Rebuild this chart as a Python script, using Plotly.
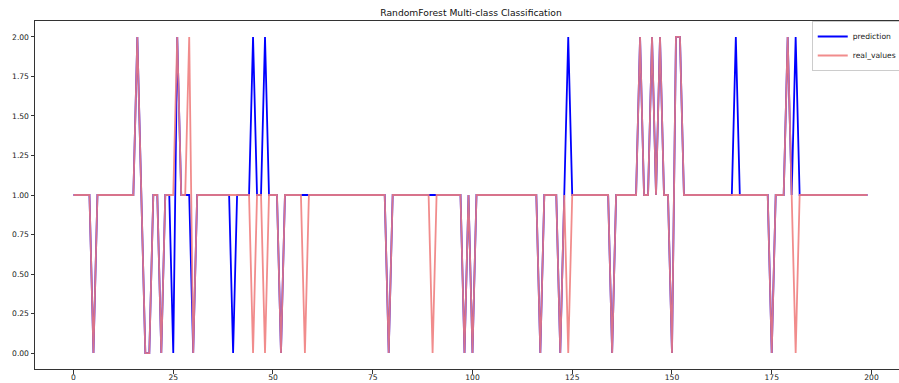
import plotly.graph_objects as go

# ---- data ----
x_index = list(range(200))

real_values = (
    [1, 1, 1, 1, 1, 0, 1, 1, 1, 1, 1, 1, 1, 1, 1, 1, 2, 1, 0, 0,      # 0-19
     1, 1, 0, 1, 1, 1, 2, 1, 1, 2, 0, 1, 1, 1, 1, 1, 1, 1, 1, 1,      # 20-39
     1, 1, 1, 1, 1, 0, 1, 1, 0, 1, 1, 1, 0, 1, 1, 1, 1, 1, 0, 1,      # 40-59
     1, 1, 1, 1, 1, 1, 1, 1, 1, 1, 1, 1, 1, 1, 1, 1, 1, 1, 1, 0,      # 60-79
     1, 1, 1, 1, 1, 1, 1, 1, 1, 1, 0, 1, 1, 1, 1, 1, 1, 1, 0, 1,      # 80-99
     0, 1, 1, 1, 1, 1, 1, 1, 1, 1, 1, 1, 1, 1, 1, 1, 1, 0, 1, 1,      # 100-119
     1, 1, 0, 1, 0, 1, 1, 1, 1, 1, 1, 1, 1, 1, 1, 0, 1, 1, 1, 1,      # 120-139
     1, 1, 2, 1, 1, 2, 1, 2, 1, 1, 0, 2, 2, 1, 1, 1, 1, 1, 1, 1,      # 140-159
     1, 1, 1, 1, 1, 1, 1, 1, 1, 1, 1, 1, 1, 1, 1, 0, 1, 1, 1, 2,      # 160-179
     1, 0, 1, 1, 1, 1, 1, 1, 1, 1, 1, 1, 1, 1, 1, 1, 1, 1, 1, 1]      # 180-199
)

prediction = (
    [1, 1, 1, 1, 1, 0, 1, 1, 1, 1, 1, 1, 1, 1, 1, 1, 2, 1, 0, 0,      # 0-19
     1, 1, 0, 1, 1, 0, 2, 1, 1, 1, 0, 1, 1, 1, 1, 1, 1, 1, 1, 1,      # 20-39
     0, 1, 1, 1, 1, 2, 1, 1, 2, 1, 1, 1, 0, 1, 1, 1, 1, 1, 1, 1,      # 40-59
     1, 1, 1, 1, 1, 1, 1, 1, 1, 1, 1, 1, 1, 1, 1, 1, 1, 1, 1, 0,      # 60-79
     1, 1, 1, 1, 1, 1, 1, 1, 1, 1, 1, 1, 1, 1, 1, 1, 1, 1, 0, 1,      # 80-99
     0, 1, 1, 1, 1, 1, 1, 1, 1, 1, 1, 1, 1, 1, 1, 1, 1, 0, 1, 1,      # 100-119
     1, 1, 0, 1, 2, 1, 1, 1, 1, 1, 1, 1, 1, 1, 1, 0, 1, 1, 1, 1,      # 120-139
     1, 1, 2, 1, 1, 2, 1, 2, 1, 1, 0, 2, 2, 1, 1, 1, 1, 1, 1, 1,      # 140-159
     1, 1, 1, 1, 1, 1, 2, 1, 1, 1, 1, 1, 1, 1, 1, 0, 1, 1, 1, 2,      # 160-179
     1, 2, 1, 1, 1, 1, 1, 1, 1, 1, 1, 1, 1, 1, 1, 1, 1, 1, 1, 1]      # 180-199
)

x_ticks = [0, 25, 50, 75, 100, 125, 150, 175, 200]
y_ticks = [0.0, 0.25, 0.5, 0.75, 1.0, 1.25, 1.5, 1.75, 2.0]

FONT = "DejaVu Sans"

fig = go.Figure()
fig.add_trace(go.Scatter(
    x=x_index, y=prediction, mode="lines", name="prediction",
    line=dict(color="rgb(0,0,255)", width=1.8),
))
fig.add_trace(go.Scatter(
    x=x_index, y=real_values, mode="lines", name="real_values",
    line=dict(color="rgba(240,128,128,0.9)", width=1.8),
))

axis_common = dict(
    showgrid=False, zeroline=False,
    showline=True, linecolor="#333333", linewidth=1,
    ticks="outside", ticklen=3.5, tickwidth=0.8, tickcolor="#333333",
    tickfont=dict(family=FONT, size=7.6, color="#222222"),
    automargin=False,
)

fig.update_layout(
    width=899, height=383,
    margin=dict(l=35, r=0, t=21, b=14, pad=0, autoexpand=False),
    paper_bgcolor="white", plot_bgcolor="white",
    title=dict(
        text="RandomForest Multi-class Classification",
        font=dict(family=FONT, size=9.2, color="#111111"),
        xref="container", x=471 / 899, xanchor="center",
        yref="container", y=1 - 13 / 383, yanchor="middle",
    ),
    xaxis=dict(range=[-9.65, 206.9], tickvals=x_ticks, mirror=True, **axis_common),
    yaxis=dict(range=[-0.101, 2.101], tickvals=y_ticks, tickformat=".2f", **axis_common),
    showlegend=True,
    legend=dict(
        x=0.899, xanchor="left", y=1.0, yanchor="top",
        bgcolor="rgba(255,255,255,0.8)", bordercolor="#cccccc", borderwidth=1,
        font=dict(family=FONT, size=7.6, color="#222222"),
        tracegroupgap=0,
    ),
    font=dict(family=FONT),
)

try:
    fig.update_xaxes(ticklabelstandoff=-3)
except Exception:
    fig.update_xaxes(ticklen=1)

fig.write_html("out.html")
